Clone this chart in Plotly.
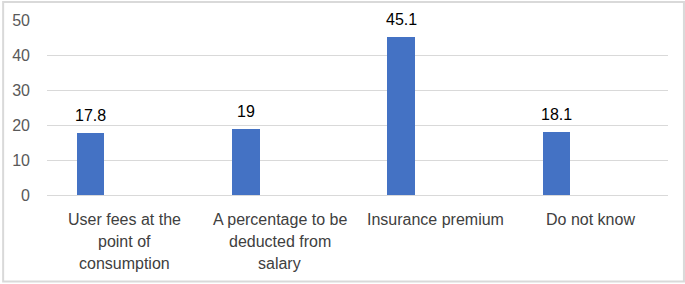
import plotly.graph_objects as go

categories = ["User fees at the point of consumption", "A percentage to be deducted from salary",
              "Insurance premium", "Do not know"]
values = [17.8, 19, 45.1, 18.1]
label_lines = [["User fees at the", "point of", "consumption"],
               ["A percentage to be", "deducted from", "salary"],
               ["Insurance premium"],
               ["Do not know"]]
y_ticks = [0, 10, 20, 30, 40, 50]

W, H = 685, 284
ml, mr, mt, mb = 45, 17, 19, 89
pw, ph = W - ml - mr, H - mt - mb

BAR_W, BAR_OFF = 0.178, -0.308
bar_center_px = (BAR_OFF + BAR_W / 2) * pw / len(categories)

FONT = "Liberation Sans, Arial, sans-serif"

fig = go.Figure()
fig.add_trace(go.Bar(
    x=categories, y=values,
    width=BAR_W, offset=BAR_OFF,
    marker=dict(color="#4472C4", line=dict(width=0)),
    hoverinfo="skip",
))

annotations = []
for cat, v in zip(categories, values):
    annotations.append(dict(
        x=cat, y=v, xref="x", yref="y", text=f"{v:g}", showarrow=False,
        xshift=bar_center_px, yshift=7, xanchor="center", yanchor="bottom",
        font=dict(family=FONT, size=16, color="#000000"),
    ))
for cat, lines in zip(categories, label_lines):
    for i, ln in enumerate(lines):
        annotations.append(dict(
            x=cat, y=0, xref="x", yref="y", text=ln, showarrow=False,
            yshift=-24 - 22 * i, xanchor="center", yanchor="middle",
            font=dict(family=FONT, size=16, color="#404040"),
        ))

fig.update_layout(
    width=W, height=H,
    margin=dict(l=ml, r=mr, t=mt, b=mb),
    paper_bgcolor="white", plot_bgcolor="white",
    showlegend=False,
    bargap=0,
    annotations=annotations,
    xaxis=dict(showticklabels=False, showgrid=False, showline=False, zeroline=False,
               ticks="", categoryorder="array", categoryarray=categories),
    yaxis=dict(range=[0, 50], tickvals=y_ticks, showgrid=True, gridcolor="#d9d9d9", gridwidth=1,
               zeroline=True, zerolinecolor="#d9d9d9", zerolinewidth=1, showline=False,
               ticks="", ticklabelstandoff=16,
               tickfont=dict(family=FONT, size=16, color="#595959")),
    shapes=[dict(type="rect", xref="paper", yref="paper",
                 x0=(1 - ml) / pw, x1=(W - 1 - ml) / pw,
                 y0=-(mb - 2) / ph, y1=(ph + mt - 1) / ph,
                 line=dict(color="#d9d9d9", width=2), fillcolor="rgba(0,0,0,0)", layer="below")],
)

fig.write_html("out.html", config={"displayModeBar": False},
               post_script="document.body.style.margin='0';")
